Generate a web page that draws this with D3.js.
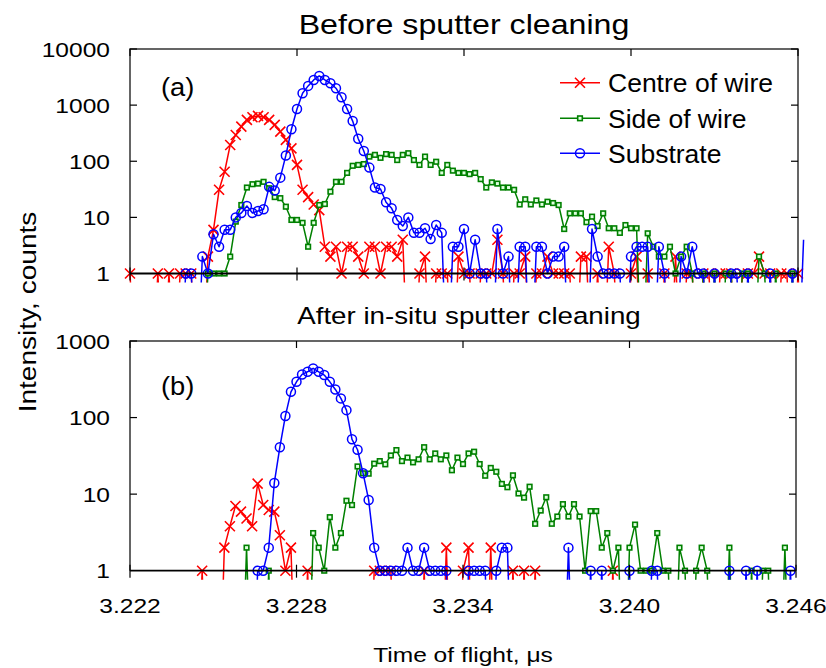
<!DOCTYPE html>
<html><head><meta charset="utf-8">
<script src="https://cdn.jsdelivr.net/npm/d3@7"></script>
<style>body{margin:0;background:#fff} text{font-family:"Liberation Sans",Arial,sans-serif;fill:#000}</style>
</head><body><svg id="c" width="826" height="668"></svg>
<script>
// time axis: regular bins
const timeStart = 3.222, timeStep = 0.0002;
const xTicks = [3.222, 3.228, 3.234, 3.240, 3.246];
const xTickLabels = ["3.222", "3.228", "3.234", "3.240", "3.246"];
const topYTicks = [1, 10, 100, 1000, 10000];
const topYTickLabels = ["1", "10", "100", "1000", "10000"];
const botYTicks = [1, 10, 100, 1000];
const botYTickLabels = ["1", "10", "100", "1000"];
const seriesNames = ["Centre of wire", "Side of wire", "Substrate"];
const titles = ["Before sputter cleaning", "After in-situ sputter cleaning"];
const panelTags = ["(a)", "(b)"];

// (a) Before sputter cleaning, counts per bin
const beforeCentre = [1,0,0,0,0,1,0,1,0,1,1,1,0,0,2,6,31,65,195,294,414,545,609,642,609,545,444,337,240,170,86,31,23,17,13.5,3,2,3,1,3,3,2,1,3,3,1,3,3,2,4,0,0,1,2,0,1,1,1,0,2,1,1,0,1,1,1,4,1,0,1,1,2,0,1,1,2,1,1,1,1,0,2,2,0,1,0,3,1,0,0,1,2,0,1,0,0,1,0,2,0,1,1,0,1,1,0,1,1,1,0,1,1,1,2,1,1,0,1,1,0,1,0];
const beforeSide = [0,0,0,0,0,0,0,0,0,0,0,0,0,0,1,1,1,1,2,8.4,16.6,34,39,40,43,33,23,22,15.5,9,9,8,3,8,16.6,17.3,28.7,43,43,62,83,86,89,121,130,115,134,130,105,130,139,105,86,121,86,98,62,86,68,62,62,59,62,48,34,42,40,34,34,31,17,21,17,20,17,19,18,16.6,6.2,11.8,11.8,11.8,8.2,10.3,7,11.8,6.4,6.4,5.3,7.3,6.4,6.4,0,5.2,3,2,2,3,1,2,3,1,0,1,0,1,0,1,1,0,1,1,0,2,1,0,1,0,0,1,0,0];
const beforeSubstrate = [0,0,0,0,0,0,0,0,0,0,1,1,0,2,1,5,3,6,6,10,12,16,12,13,14,35,30,51,127,372,855,1630,2200,2810,3315,2810,2455,2000,1383,855,520,252,152,77,34,32,18.6,14.5,9,7,10,5.3,5.3,6.4,4.1,7.3,5.3,0,3,3,6.2,1,4,1,1,0,6.2,1,2,0,3,3,0,3,3,1,2,2,3,0,0,0,0,6.2,2,1,1,1,1,0,2,3,3,3,0,3,1,0,0,2,1,3,1,1,0,1,0,0,1,1,0,1,0,0,0,1,0,0,0,1,0,4];

// (b) After in-situ sputter cleaning, counts per bin
const afterCentre = [0,0,0,0,0,0,0,0,0,0,0,0,0,1,0,0,0,2,3.8,7,5.9,4.8,3.8,13.7,7.2,6.2,5.9,2.9,1,2,0,0,1,0,0,0,0,0,0,0,0,0,0,0,1,1,1,1,0,0,0,0,0,1,0,0,0,2,0,0,1,2,0,0,0,2,0,0,0,1,0,1,0,1,0,0,0,0,0,0,0,0,0,0,0,0,0,1,0,0,0,0,0,0,0,0,0,0,0,0,0,0,0,0,0,0,0,0,0,0,0,0,0,0,0,0,0,0,0];
const afterSide = [0,0,0,0,0,0,0,0,0,0,0,0,0,0,0,0,0,0,0,0,0,2,0,0,0,1,0,0,0,0,0,0,0,3.1,2,1,5,2,3.1,8.2,7.2,23,18.7,18.5,25,27,24.5,32,37.6,27,30,26,28.5,41,28.5,34,28.5,32,20.5,30,24.7,34,35.8,24.7,17.4,22,19.6,13.6,12.3,17.6,10.2,9,12.5,4.1,6.1,9.1,4.1,5.1,7.4,5.1,7.4,5.1,1,6,6,2,3.1,1,2,0,2,4,1,1,1,3.1,1,1,0,2,1,0,1,2,1,0,0,0,2,0,0,0,1,0,1,1,0,0,2,0,0];
const afterSubstrate = [0,0,0,0,0,0,0,0,0,0,0,0,0,0,0,0,0,0,0,0,0,0,0,1,1,2,14,41,105,217,293,366,396,439,396,359,293,233,178,125,52,38,18.7,8.4,2,1,1,1,1,1,2,1,1,2,1,1,1,1,0,0,0,1,1,1,1,0,1,2,2,0,0,0,0,0,0,0,0,0,0,2,0,0,0,1,0,1,0,0,0,0,1,0,0,0,1,1,0,0,0,0,0,0,0,0,0,0,0,0,1,0,0,1,0,1,0,0,0,0,0,1,0];

const colors = ["#ff0000", "#008000", "#0000ff"];
const markers = ["x", "square", "circle"];

const svg = d3.select("#c");

function txt(x, y, s, size, sx, anchor, rot) {
  return svg.append("text")
    .attr("transform", `translate(${x},${y})` + (rot ? ` rotate(${rot})` : "") + ` scale(${sx},1)`)
    .attr("font-size", size).attr("text-anchor", anchor || "start").text(s);
}

function drawMarker(g, kind, color) {
  if (kind === "x") {
    g.append("path").attr("d", "M-5,-5L5,5M-5,5L5,-5").attr("stroke", color).attr("stroke-width", 1.6).attr("fill", "none");
  } else if (kind === "square") {
    g.append("rect").attr("x", -2.3).attr("y", -2.3).attr("width", 4.6).attr("height", 4.6)
      .attr("stroke", color).attr("stroke-width", 1.6).attr("fill", "#dfffdf");
  } else {
    g.append("circle").attr("r", 4.5).attr("stroke", color).attr("stroke-width", 1.5).attr("fill", "none");
  }
}

function panel(cfg) {
  const x = d3.scaleLinear().domain([3.222, 3.246]).range([cfg.left, cfg.right]);
  const y = d3.scaleLog().domain([1, cfg.ymax]).range([cfg.bottom, cfg.top]);
  const clipId = "clip" + cfg.id;
  svg.append("clipPath").attr("id", clipId).append("rect")
    .attr("x", 0).attr("y", 0).attr("width", 805).attr("height", cfg.bottom + 9);

  const g = svg.append("g").attr("clip-path", `url(#${clipId})`);
  const line = d3.line().x(d => x(d.t)).y(d => y(Math.max(d.v, 0.01)));
  cfg.series.forEach((vals, si) => {
    const data = vals.map((v, i) => ({ t: timeStart + i * timeStep, v }));
    g.append("path").datum(data).attr("d", line).attr("fill", "none")
      .attr("stroke", colors[si]).attr("stroke-width", 1.5).attr("stroke-linejoin", "round");
    data.filter(d => d.v > 0 && x(d.t) <= cfg.right + 1).forEach(d => {
      const m = g.append("g").attr("transform", `translate(${x(d.t)},${y(d.v)})`);
      drawMarker(m, markers[si], colors[si]);
    });
  });

  // frame
  const ax = svg.append("g").attr("stroke", "#000").attr("fill", "none");
  ax.append("path").attr("d", `M${cfg.left},${cfg.bottom}V${cfg.top}H${cfg.right}V${cfg.bottom}`)
    .attr("stroke", "#333").attr("stroke-width", 1.5);
  ax.append("line").attr("x1", cfg.left).attr("x2", cfg.right).attr("y1", cfg.bottom).attr("y2", cfg.bottom).attr("stroke-width", 1.8);
  cfg.yTicks.forEach((v, i) => {
    const yy = y(v);
    if (i > 0) {
      ax.append("line").attr("x1", cfg.left).attr("x2", cfg.left + 7).attr("y1", yy).attr("y2", yy).attr("stroke-width", 1.2);
      ax.append("line").attr("x1", cfg.right).attr("x2", cfg.right - 7).attr("y1", yy).attr("y2", yy).attr("stroke-width", 1.2);
    }
    txt(cfg.left - 20, yy + 7.5, cfg.yLabels[i], 21, 1.17, "end");
  });
  xTicks.forEach(v => {
    const xx = x(v);
    ax.append("line").attr("x1", xx).attr("x2", xx).attr("y1", cfg.top).attr("y2", cfg.top + 7).attr("stroke-width", 1.2);
    ax.append("line").attr("x1", xx).attr("x2", xx).attr("y1", cfg.bottom - 6).attr("y2", cfg.bottom + 7).attr("stroke-width", 1.2);
  });
  txt(cfg.titleX, cfg.titleY, cfg.title, cfg.titleSize, 1.17, "middle");
  txt(cfg.left + 31, cfg.tagY, cfg.tag, 26, 1.05, "start");
  return x;
}

panel({ id: "a", left: 130, right: 798, top: 49, bottom: 273.5, ymax: 10000,
  yTicks: topYTicks, yLabels: topYTickLabels, title: titles[0], titleX: 464, titleY: 34, titleSize: 27.5,
  tag: panelTags[0], tagY: 96, series: [beforeCentre, beforeSide, beforeSubstrate] });
const xb = panel({ id: "b", left: 130, right: 796, top: 341, bottom: 570.7, ymax: 1000,
  yTicks: botYTicks, yLabels: botYTickLabels, title: titles[1], titleX: 469, titleY: 324, titleSize: 23.7,
  tag: panelTags[1], tagY: 395, series: [afterCentre, afterSide, afterSubstrate] });

xTicks.forEach((v, i) => txt(xb(v), 613, xTickLabels[i], 21, 1.17, "middle"));
txt(463, 662, "Time of flight, μs", 21, 1.17, "middle");
txt(36, 312, "Intensity, counts", 24, 1.17, "middle", -90);

// legend
const legY = [82.7, 118.3, 153.3];
seriesNames.forEach((name, i) => {
  svg.append("line").attr("x1", 560).attr("x2", 600).attr("y1", legY[i]).attr("y2", legY[i])
    .attr("stroke", colors[i]).attr("stroke-width", 1.5);
  const m = svg.append("g").attr("transform", `translate(580,${legY[i]})`);
  drawMarker(m, markers[i], colors[i]);
  txt(608, legY[i] + 9.5, name, 26.5, 1, "start");
});
</script></body></html>
